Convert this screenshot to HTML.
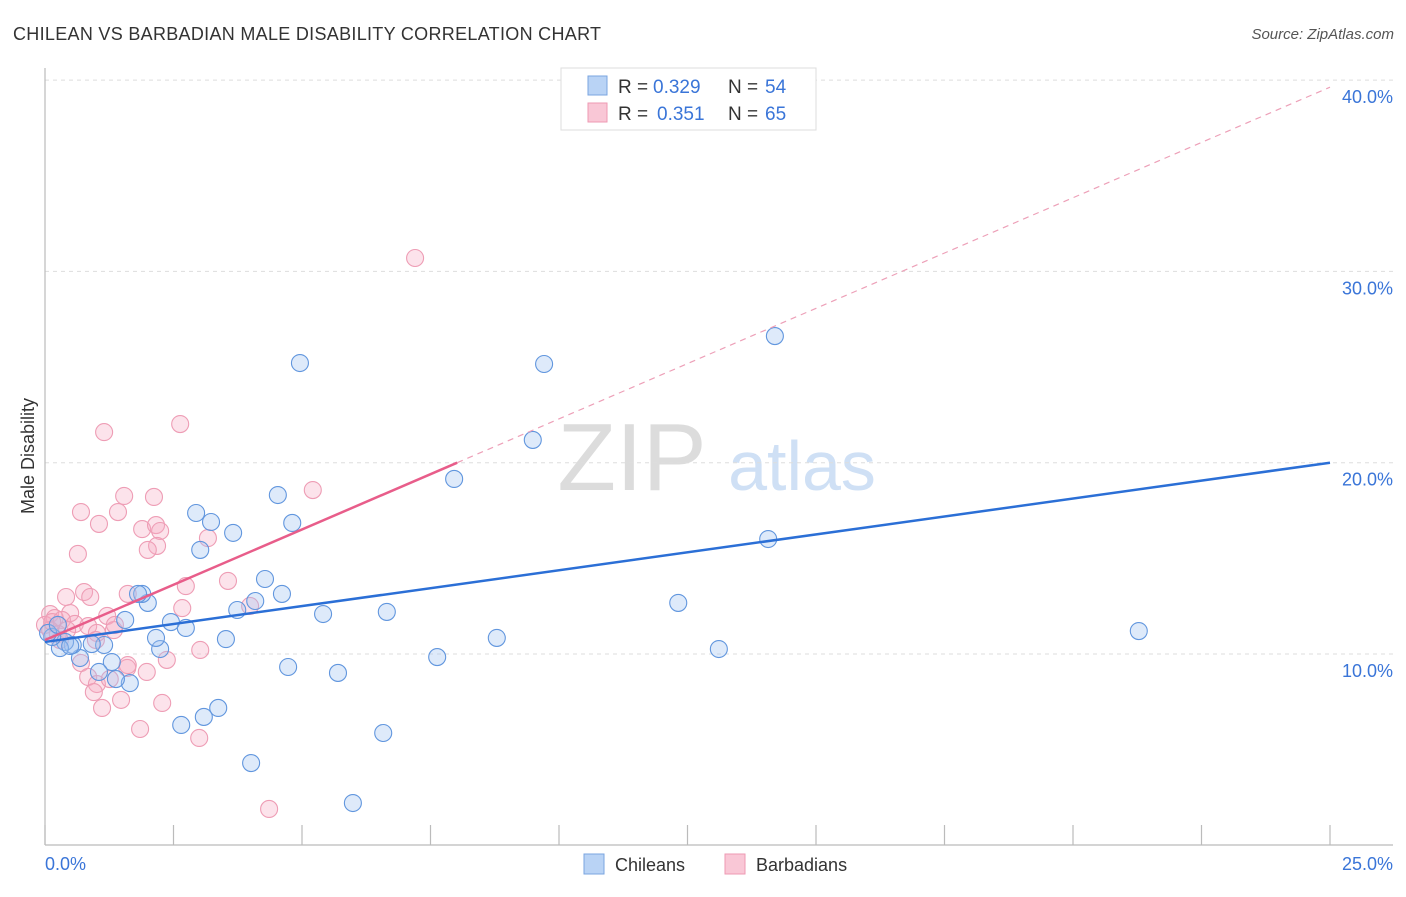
<!DOCTYPE html>
<html><head><meta charset="utf-8"><style>
body{margin:0;background:#fff;font-family:"Liberation Sans",sans-serif;}
svg text{font-family:"Liberation Sans",sans-serif;}
</style></head><body>
<svg id="chart" width="1406" height="892" xmlns="http://www.w3.org/2000/svg">
<text x="13" y="40" font-size="18" fill="#333" letter-spacing="0.3">CHILEAN VS BARBADIAN MALE DISABILITY CORRELATION CHART</text>
<text x="1394" y="39" font-size="15" fill="#555" font-style="italic" text-anchor="end">Source: ZipAtlas.com</text>
<g>
<text x="632" y="490" font-size="96" fill="#dcdcdc" font-family="Liberation Serif" text-anchor="middle">ZIP</text>
<text x="802" y="490" font-size="70" fill="#cfe0f5" text-anchor="middle">atlas</text>
</g>
<g id="grid"></g>
<g id="axes">
<line x1="45" y1="68" x2="45" y2="845" stroke="#bbb" stroke-width="1.2"/>
<line x1="45" y1="845" x2="1393" y2="845" stroke="#bbb" stroke-width="1.2"/>
</g>
<text transform="translate(34,456) rotate(-90)" font-size="18" fill="#333" text-anchor="middle">Male Disability</text>
<text x="45" y="870" font-size="18" fill="#3a75d8">0.0%</text>
<text x="1393" y="870" font-size="18" fill="#3a75d8" text-anchor="end">25.0%</text>
<g id="points-pink"></g>
<g id="points-blue"></g>
<g id="lines"></g>
<g>
<rect x="561" y="68" width="255" height="62" fill="#fff" stroke="#ddd"/>
<rect x="588" y="76" width="19" height="19" fill="#b9d3f5" stroke="#7aa5e0"/>
<rect x="588" y="103" width="19" height="19" fill="#f9c7d6" stroke="#ee9ab3"/>
<text x="618" y="93" font-size="19" fill="#333">R =</text>
<text x="653" y="93" font-size="19" fill="#3a75d8">0.329</text>
<text x="728" y="93" font-size="19" fill="#333">N =</text>
<text x="765" y="93" font-size="19" fill="#3a75d8">54</text>
<text x="618" y="120" font-size="19" fill="#333">R =</text>
<text x="657" y="120" font-size="19" fill="#3a75d8">0.351</text>
<text x="728" y="120" font-size="19" fill="#333">N =</text>
<text x="765" y="120" font-size="19" fill="#3a75d8">65</text>
</g>
<g>
<rect x="584" y="854" width="20" height="20" fill="#b9d3f5" stroke="#7aa5e0"/>
<text x="615" y="871" font-size="18" fill="#333">Chileans</text>
<rect x="725" y="854" width="20" height="20" fill="#f9c7d6" stroke="#ee9ab3"/>
<text x="756" y="871" font-size="18" fill="#333">Barbadians</text>
</g>
</svg>
<script>
const yTicks=[10,20,30,40];
const yTickLabels=["10.0%","20.0%","30.0%","40.0%"];
const xTickCount=10;
const blueX=[4.96,9.71,14.20,9.49,7.96,14.07,12.32,21.28,13.11,8.79,7.63,6.65,5.41,5.70,4.73,6.58,5.99,4.01,3.37,3.09,2.65,3.52,3.74,4.09,4.28,4.61,4.81,4.53,3.66,3.23,3.02,2.94,2.74,2.45,2.24,2.16,2.00,1.89,1.81,1.56,1.65,1.38,1.30,1.05,1.15,0.68,0.91,0.54,0.39,0.29,0.14,0.06,0.25,0.49];
const blueY=[25.21,25.16,26.62,21.19,19.15,16.01,12.67,11.20,10.26,10.84,9.84,12.20,12.09,9.01,9.32,5.87,2.21,4.30,7.18,6.71,6.29,10.78,12.30,12.77,13.92,13.14,16.85,18.31,16.33,16.90,15.44,17.37,11.36,11.67,10.26,10.84,12.67,13.14,13.14,11.78,8.48,8.69,9.58,9.06,10.47,9.79,10.52,10.47,10.63,10.31,10.89,11.10,11.52,10.42];
const pinkX=[7.20,2.63,1.15,5.21,1.54,2.12,0.70,1.42,1.05,1.89,2.16,2.24,3.17,0.64,2.18,2.00,2.74,3.56,0.76,0.41,0.88,1.61,3.99,2.67,1.21,0.49,0.10,0.19,0.33,0.58,0.84,1.01,1.34,0.00,0.10,0.25,0.43,1.36,0.70,1.60,0.84,1.01,1.26,0.95,1.48,1.11,1.98,2.37,3.02,2.28,1.85,3.00,4.36,1.61,0.99,0.29,0.14];
const pinkY=[30.70,22.02,21.60,18.57,18.26,18.21,17.42,17.42,16.80,16.53,16.74,16.43,16.06,15.23,15.65,15.44,13.55,13.82,13.24,12.98,12.98,13.14,12.51,12.40,11.99,12.14,12.09,11.88,11.78,11.57,11.46,11.10,11.25,11.52,11.25,11.05,11.25,11.52,9.53,9.27,8.80,8.43,8.69,8.01,7.60,7.18,9.06,9.69,10.21,7.44,6.08,5.61,1.90,9.42,10.73,10.73,11.67];
const blueTrend=[10.63,20.0];
const pinkTrend=[10.73,1.156,8.02];
const NS="http://www.w3.org/2000/svg";
const X=v=>45+v*(1285/25);
const Y=v=>654-(v-10)*19.13;
function mk(tag,attrs,parent){const e=document.createElementNS(NS,tag);for(const k in attrs)e.setAttribute(k,attrs[k]);parent.appendChild(e);return e;}
const grid=document.getElementById('grid');
yTicks.forEach((t,i)=>{
  const l=mk('line',{x1:45,x2:1393,y1:Y(t),y2:Y(t),stroke:'#ddd','stroke-dasharray':'4,4'},grid);
  
  
  const tx=mk('text',{x:1393,y:Y(t)+23,'font-size':18,fill:'#3a75d8','text-anchor':'end'},grid);
  tx.textContent=yTickLabels[i];
  
  
});
for(let k=0;k<=xTickCount;k++){
  const xv=k*25/xTickCount;
  const l=mk('line',{x1:X(xv),x2:X(xv),y1:825,y2:845,stroke:'#bbb','stroke-width':1.2},grid);
  
  
}
function pts(xs,ys,g,fill,stroke,name){
  xs.forEach((x,i)=>{
    const c=mk('circle',{cx:X(x),cy:Y(ys[i]),r:8.5,fill:fill,stroke:stroke,'stroke-width':1.1},g);
    
    
  });
}
pts(pinkX,pinkY,document.getElementById('points-pink'),'rgba(246,170,195,0.33)','#ee9db5','barbadian-point');
pts(blueX,blueY,document.getElementById('points-blue'),'rgba(160,195,240,0.35)','#6196de','chilean-point');
const lg=document.getElementById('lines');
const bl=mk('line',{x1:X(0),y1:Y(blueTrend[0]),x2:X(25),y2:Y(blueTrend[1]),stroke:'#2b6fd6','stroke-width':2.5},lg);


const pe=pinkTrend[2];
const pl=mk('line',{x1:X(0),y1:Y(pinkTrend[0]),x2:X(pe),y2:Y(pinkTrend[0]+pinkTrend[1]*pe),stroke:'#e85d8a','stroke-width':2.5},lg);


const pd=mk('line',{x1:X(pe),y1:Y(pinkTrend[0]+pinkTrend[1]*pe),x2:X(25),y2:Y(pinkTrend[0]+pinkTrend[1]*25),stroke:'#eda0b8','stroke-width':1.2,'stroke-dasharray':'6,5'},lg);


</script>
</body></html>
